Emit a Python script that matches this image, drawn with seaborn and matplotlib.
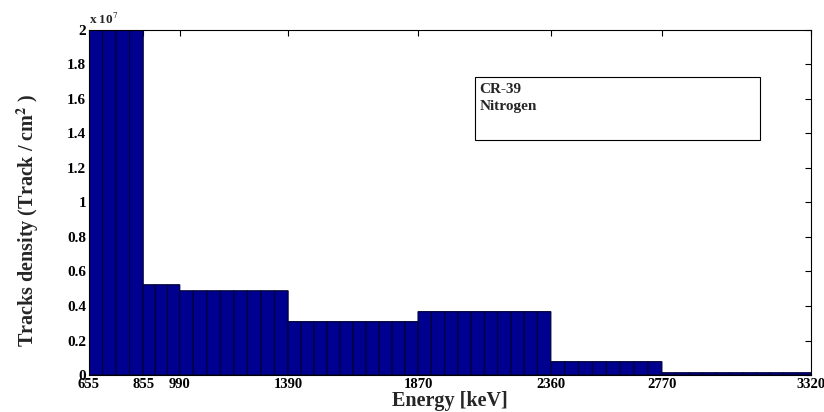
import numpy as np
import seaborn as sns
import matplotlib.pyplot as plt
from matplotlib.ticker import FuncFormatter, FixedLocator

# bin edges (keV) and track density per bin (tracks / cm^2)
bin_edges = [655, 855, 990, 1390, 1870, 2360, 2770, 3320]
density = [2.0e7, 0.523e7, 0.488e7, 0.309e7, 0.367e7, 0.077e7, 0.013e7]
xtick_labels = ["655", "855", "990", "1390", "1870", "2360", "2770", "3320"]
yticks = [0, 0.2, 0.4, 0.6, 0.8, 1, 1.2, 1.4, 1.6, 1.8, 2]

# the original is drawn as many thin bars (~50 keV each) inside every bin
sub_edges = []
centers = []
weights = []
for lo, hi, val in zip(bin_edges[:-1], bin_edges[1:], density):
    n = max(1, int(round((hi - lo) / 50)))
    e = np.linspace(lo, hi, n + 1)
    sub_edges.extend(e[:-1])
    centers.extend((e[:-1] + e[1:]) / 2)
    weights.extend([val] * n)
sub_edges.append(bin_edges[-1])

sns.set_style("white")
plt.rcParams['font.family'] = ['Liberation Serif', 'DejaVu Serif']
plt.rcParams['mathtext.fontset'] = 'stix'

fig = plt.figure(figsize=(8.24, 4.12), dpi=100)
ax = fig.add_axes([0.108, 0.0898, 0.876, 0.8374])

sns.histplot(x=centers, weights=weights, bins=sub_edges, ax=ax,
             color="#000090", edgecolor="#00003a", linewidth=0.9, alpha=1,
             snap=False)

ax.set_xlim(bin_edges[0], bin_edges[-1])
ax.set_ylim(0, 2e7)
ax.xaxis.set_major_locator(FixedLocator(bin_edges))
ax.set_xticklabels(xtick_labels)
ax.yaxis.set_major_locator(FixedLocator([v * 1e7 for v in yticks]))
ax.yaxis.set_major_formatter(FuncFormatter(lambda v, p: "%g" % (v / 1e7)))

ax.tick_params(direction="in", length=4, width=0.8, top=True, right=True,
               labelsize=11, colors="black")
ax.tick_params(axis="x", pad=2.5, labelsize=10.5)
ax.tick_params(axis="y", pad=2)
for lab in ax.get_xticklabels() + ax.get_yticklabels():
    lab.set_fontweight("bold")
for s in ax.spines.values():
    s.set_color("black")
    s.set_linewidth(0.8)

ax.set_xlabel("Energy [keV]", fontsize=14.5, fontweight="bold", labelpad=0)
ax.set_ylabel("Tracks density (Track / cm$^{\\mathbf{2}}$ )", fontsize=14.5,
              fontweight="bold")
ax.yaxis.set_label_coords(-0.066, 0.45)

ax.text(0.0, 1.008, "x 10$^{7}$", transform=ax.transAxes, fontsize=9.5,
        fontweight="bold", ha="left", va="bottom")

# annotation box
box = plt.Rectangle((0.535, 0.681), 0.394, 0.183, transform=ax.transAxes,
                    fill=True, facecolor="white", edgecolor="black", lw=0.8)
ax.add_patch(box)
ax.text(0.541, 0.847, "CR-39\nNitrogen", transform=ax.transAxes, fontsize=11,
        fontweight="bold", ha="left", va="top", linespacing=1.45)

fig.savefig("out.png", dpi=100)
